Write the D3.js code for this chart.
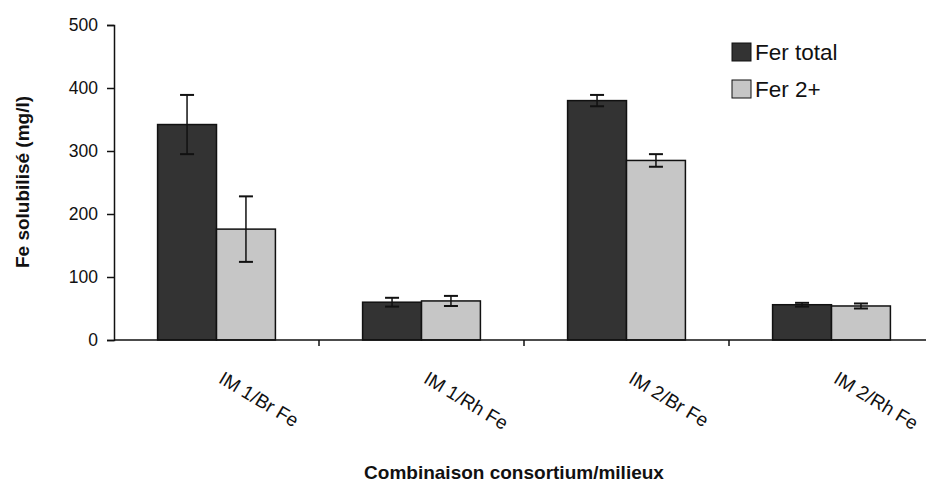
<!DOCTYPE html>
<html><head><meta charset="utf-8">
<script src="https://cdn.jsdelivr.net/npm/d3@7"></script>
<style>body{margin:0;background:#fff}svg{display:block}text{font-family:Arial,"Liberation Sans",sans-serif;fill:#111}</style>
</head><body>
<script>
const categories = ["IM 1/Br Fe", "IM 1/Rh Fe", "IM 2/Br Fe", "IM 2/Rh Fe"];
const seriesNames = ["Fer total", "Fer 2+"];
const ferTotal = [342, 60, 380, 56];
const ferTotalErr = [47, 7, 9, 3];
const fer2 = [176, 62, 285, 54];
const fer2Err = [52, 8, 10, 4];
const yTicks = [0, 100, 200, 300, 400, 500];
const colors = ["#333333", "#c6c6c6"];

const W = 926, H = 484;
const svg = d3.select("body").append("svg").attr("width", W).attr("height", H);
const x0 = 114, x1 = 934, yTop = 25, yBot = 340;
const x = d3.scaleBand().domain(categories).range([x0, x1]).paddingInner(0).paddingOuter(0);
const xs = d3.scaleBand().domain(seriesNames).range([0, x.bandwidth()]).paddingInner(0).paddingOuter(0.74);
const y = d3.scaleLinear().domain([0, 500]).range([yBot, yTop]);

const data = categories.map((c, i) => ({c, vals: [
  {s: seriesNames[0], v: ferTotal[i], e: ferTotalErr[i], col: colors[0]},
  {s: seriesNames[1], v: fer2[i], e: fer2Err[i], col: colors[1]}]}));

// bars
const g = svg.append("g");
data.forEach(d => {
  d.vals.forEach(b => {
    const bx = x(d.c) + xs(b.s);
    g.append("rect").attr("x", bx).attr("y", y(b.v)).attr("width", xs.bandwidth()).attr("height", y(0) - y(b.v))
      .attr("fill", b.col).attr("stroke", "#111").attr("stroke-width", 1.5);
    const cx = bx + xs.bandwidth() / 2;
    g.append("line").attr("x1", cx).attr("x2", cx).attr("y1", y(b.v + b.e)).attr("y2", y(b.v - b.e)).attr("stroke", "#111").attr("stroke-width", 1.5);
    [b.v + b.e, b.v - b.e].forEach(t => g.append("line").attr("x1", cx - 7).attr("x2", cx + 7).attr("y1", y(t)).attr("y2", y(t)).attr("stroke", "#111").attr("stroke-width", 2));
  });
});

// y axis
const ya = svg.append("g").attr("transform", `translate(${x0},0)`)
  .call(d3.axisLeft(y).tickValues(yTicks).tickSize(7).tickPadding(9));
ya.select(".domain").attr("stroke", "#111").attr("stroke-width", 1.5);
ya.selectAll(".tick line").attr("stroke", "#111").attr("stroke-width", 1.5);
ya.selectAll(".tick text").style("font-size", "17.5px").attr("fill", "#111");

// x axis
const xa = svg.append("g").attr("transform", `translate(0,${yBot})`);
xa.append("line").attr("x1", x0).attr("x2", x1).attr("y1", 0).attr("y2", 0).attr("stroke", "#111").attr("stroke-width", 1.5);
categories.forEach((c, i) => {
  const bx = x(c) + x.bandwidth();
  xa.append("line").attr("x1", bx).attr("x2", bx).attr("y1", 0).attr("y2", 6).attr("stroke", "#111").attr("stroke-width", 1.5);
  const cx = x(c) + x.bandwidth() / 2;
  xa.append("text").attr("transform", `translate(${cx + 1},${42}) rotate(31)`).attr("text-anchor", "start")
    .style("font-size", "19px").text(c);
});

// axis titles
svg.append("text").attr("transform", `translate(29,${182}) rotate(-90)`).attr("text-anchor", "middle")
  .style("font-size", "19px").style("font-weight", "bold").text("Fe solubilisé (mg/l)");
svg.append("text").attr("x", 514).attr("y", 479).attr("text-anchor", "middle")
  .style("font-size", "19px").style("font-weight", "bold").text("Combinaison consortium/milieux");

// legend
const lg = svg.append("g").attr("transform", "translate(732,43)");
seriesNames.forEach((s, i) => {
  lg.append("rect").attr("x", 0).attr("y", i * 37).attr("width", 19).attr("height", 18).attr("fill", colors[i]).attr("stroke", "#111").attr("stroke-width", 1);
  lg.append("text").attr("x", 23).attr("y", i * 37 + 17).style("font-size", "22.5px").text(s);
});
</script>
</body></html>
